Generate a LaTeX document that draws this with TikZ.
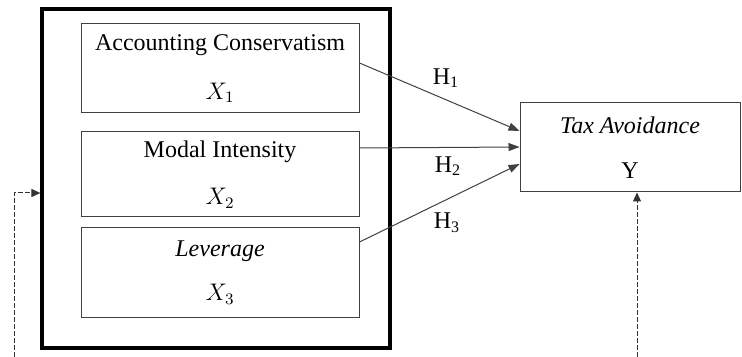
\documentclass[tikz,border=0pt]{standalone}
\usepackage{fontspec}
\setmainfont{Liberation Serif}
\usetikzlibrary{arrows.meta,positioning,calc}
\tikzset{
  every picture/.style={line width=0.5pt},
  sfont/.style={font=\fontsize{12}{14.4}\selectfont},
  sframe/.style={draw, line width=1.6pt, minimum width=174pt, minimum height=169.5pt, inner sep=0pt},
  svar/.style={draw=black!75, sfont, align=center, minimum width=139pt, inner sep=0pt},
  shyp/.style={draw=black!75, -{Triangle[length=5.5pt,width=4pt]}},
  sctrl/.style={draw=black!80, dash pattern=on 2.5pt off 1pt, -{Triangle[length=4.5pt,width=4pt]}},
  shlab/.style={sfont, inner sep=0pt},
}

\begin{document}
\begin{tikzpicture}[x=0.5pt, y=-0.5pt]
  \useasboundingbox (0,0) rectangle (742,357);
  % independent variables
  \node[sframe] (frame) at (216,178.5) {};
  \node[svar, minimum height=44.5pt] (ac) at (220,68.5)
        {Accounting Conservatism\\[10pt]$X_1$};
  \node[svar, minimum height=42.5pt] (mi) at (220,174.5)
        {Modal Intensity\\[9pt]$X_2$};
  \node[svar, minimum height=44.5pt] (lev) at (220,272.5)
        {\textit{Leverage}\\[8pt]$X_3$};
  % dependent variable
  \node[svar, minimum width=110pt, minimum height=44.5pt] (ta) at (630,147.5)
        {\textit{Tax Avoidance}\\[8pt]Y};
  % hypotheses
  \draw[shyp] ([yshift=2.75pt]ac.east) -- ([yshift=8.25pt]ta.west);
  \draw[shyp] ([yshift=13.25pt]mi.east) -- ([yshift=0.25pt]ta.west);
  \draw[shyp] ([yshift=15.25pt]lev.east) -- ([yshift=-8.25pt]ta.west);
  \node[shlab] (h1) at (446,78) {H\textsubscript{1}};
  \node[shlab] (h2) at (448,166) {H\textsubscript{2}};
  \node[shlab] (h3) at (447,223) {H\textsubscript{3}};
  % control lines
  \coordinate (cl) at (14,357);
  \coordinate (cr) at (637,357);
  \draw[sctrl] (cl) |- ([yshift=-7.25pt]frame.west);
  \draw[sctrl] (cr) -- (cr |- ta.south);
\end{tikzpicture}
\end{document}
